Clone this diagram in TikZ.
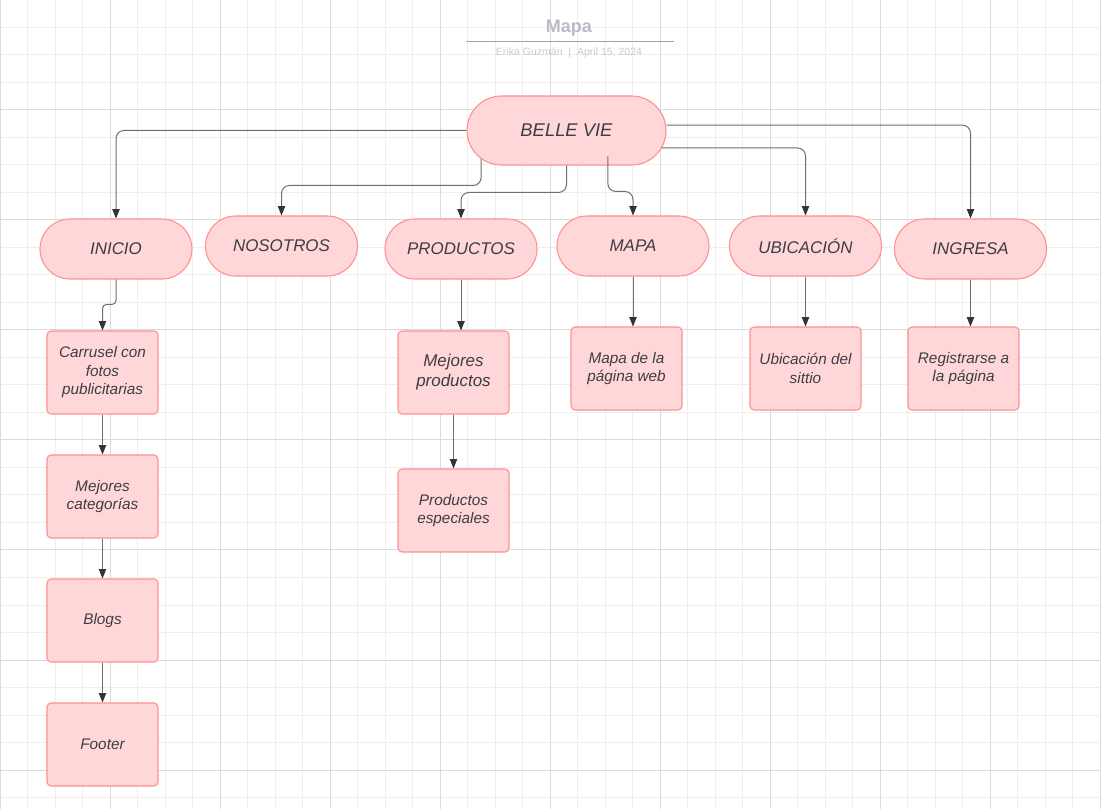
\documentclass[tikz,border=0pt]{standalone}
\usepackage{fontspec}
\setmainfont{Liberation Sans}
\usetikzlibrary{arrows.meta}
\definecolor{boxfill}{HTML}{FFD7D8}
\definecolor{boxline}{HTML}{FF8F90}
\definecolor{txt}{HTML}{3D3D45}
\definecolor{wire}{HTML}{6E6E6E}
\definecolor{tipcol}{HTML}{333333}
\definecolor{gridminor}{HTML}{EEEEEE}
\definecolor{gridmajor}{HTML}{DADADA}
\definecolor{titlegray}{HTML}{B7BBC3}
\definecolor{subgray}{HTML}{C6CAD1}
\definecolor{rulegray}{HTML}{A0A6B0}

\begin{document}
\begin{tikzpicture}[x=0.75pt,y=-0.75pt,
    pill/.style={draw=boxline,fill=boxfill,line width=0.8pt,text=txt,rounded corners=22.5pt,
        minimum width=114pt,minimum height=45pt,inner sep=0pt,font=\fontsize{12.7}{15}\selectfont\itshape},
    card/.style={draw=boxline,fill=boxfill,line width=0.8pt,text=txt,rounded corners=3pt,
        minimum width=83.25pt,minimum height=62.25pt,inner sep=0pt,align=center,
        font=\fontsize{11.5}{13.9}\selectfont\itshape},
    link/.style={draw=wire,line width=0.75pt,rounded corners=6pt,
        -{Triangle[length=7pt,width=5.5pt,color=tipcol]}}]
    \useasboundingbox (0,0) rectangle (1101,809);
    % grid
    \foreach \gx in {0,...,40} \draw[gridminor,line width=0.75pt] (\gx*27.5,0) -- (\gx*27.5,809);
    \foreach \gy in {0,...,29} \draw[gridminor,line width=0.75pt] (0,\gy*27.5) -- (1101,\gy*27.5);
    \foreach \gx in {0,...,10} \draw[gridmajor,line width=0.75pt] (\gx*110,0) -- (\gx*110,809);
    \foreach \gy in {0,...,7} \draw[gridmajor,line width=0.75pt] (0,\gy*110) -- (1101,\gy*110);
    % title
    \node[text=titlegray,font=\fontsize{13.5}{16}\selectfont\bfseries] (title) at (569,28) {Mapa};
    \draw[rulegray,line width=0.75pt] (466,42) -- (674,42);
    \node[text=subgray,font=\fontsize{7.9}{9}\selectfont] (author) at (569,52.5) {Erika Guzmán\ \ |\ \ April 15, 2024};
    % top level
    \node[pill,minimum width=149.25pt,minimum height=51.75pt,rounded corners=25.875pt,
        font=\fontsize{13.8}{16}\selectfont\itshape] (belle) at (566.5,130.5) {BELLE VIE};
    \node[pill] (inicio) at (116,249) {INICIO};
    \node[pill] (nosotros) at (281.5,246) {NOSOTROS};
    \node[pill] (productos) at (461,249) {PRODUCTOS};
    \node[pill] (mapa) at (633,246) {MAPA};
    \node[pill] (ubicacion) at (805.5,246) {UBICACIÓN};
    \node[pill] (ingresa) at (970.5,249) {INGRESA};
    % pages
    \node[card] (carrusel) at (102.5,372.5) {Carrusel con\\fotos\\publicitarias};
    \node[card] (categorias) at (102.5,496.5) {Mejores\\categorías};
    \node[card] (blogs) at (102.5,620.5) {Blogs};
    \node[card] (footer) at (102.5,744.5) {Footer};
    \node[card,font=\fontsize{12.7}{15}\selectfont\itshape] (mejores) at (453.5,372.5) {Mejores\\productos};
    \node[card] (especiales) at (453.5,510.5) {Productos\\especiales};
    \node[card] (paginaweb) at (626.5,368.5) {Mapa de la\\página web};
    \node[card] (sitio) at (805.5,368.5) {Ubicación del\\sittio};
    \node[card] (registro) at (963.5,368.5) {Registrarse a\\la página};
    % connectors
    \draw[link] (belle.west) -| (inicio.north);
    \draw[link] ([xshift=-64pt,yshift=5.25pt]belle.south) |- ([yshift=22.5pt]nosotros.north) -- (nosotros.north);
    \draw[link] (belle.south) |- ([yshift=19.5pt]productos.north) -- (productos.north);
    \draw[link] ([xshift=31pt,yshift=6.9pt]belle.south) |- ([yshift=18pt]mapa.north) -- (mapa.north);
    \draw[link] ([xshift=-3.75pt,yshift=-13.1pt]belle.east) -| (ubicacion.north);
    \draw[link] ([yshift=4pt]belle.east) -| (ingresa.north);
    \draw[link,rounded corners=3pt] (inicio.south) |- ([yshift=19.5pt]carrusel.north) -- (carrusel.north);
    \draw[link] (carrusel) -- (categorias);
    \draw[link] (categorias) -- (blogs);
    \draw[link] (blogs) -- (footer);
    \draw[link] (productos.south) -- (productos.south |- mejores.north);
    \draw[link] (mejores) -- (especiales);
    \draw[link] (mapa.south) -- (mapa.south |- paginaweb.north);
    \draw[link] (ubicacion) -- (sitio);
    \draw[link] (ingresa.south) -- (ingresa.south |- registro.north);
\end{tikzpicture}
\end{document}
